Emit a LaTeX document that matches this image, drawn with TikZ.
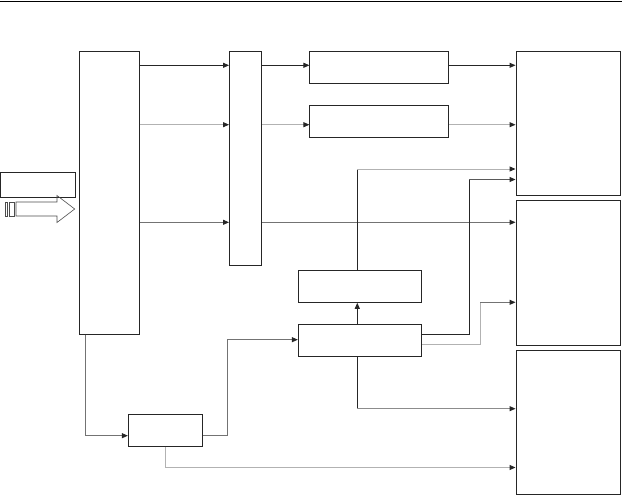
\documentclass[tikz,border=0pt]{standalone}
\usetikzlibrary{arrows.meta}
\begin{document}
\begin{tikzpicture}[x=1pt,y=-1pt,
  box/.style={draw=black!85,line width=0.9pt,inner sep=0pt,rectangle},
  con/.style={line width=0.9pt},
  tip/.style={-{Triangle[length=6pt,width=5pt,color=black!85]}},
  blk/.style={draw=black!85},
  lg/.style={draw=black!30},
  mg/.style={draw=black!55},
  dg/.style={draw=black!65}]
\useasboundingbox (0,0) rectangle (622,495);
\draw[line width=0.9pt,black] (0,1) -- (622,1);
% nodes
\node[box,minimum width=60,minimum height=283] (A) at (109.4,192.6) {};
\node[box,minimum width=32.2,minimum height=214] (B) at (245.6,158.3) {};
\node[box,minimum width=139,minimum height=32] (C1) at (379.4,67.3) {};
\node[box,minimum width=139,minimum height=32] (C2) at (379.4,121.3) {};
\node[box,minimum width=104,minimum height=144] (D1) at (568,123.3) {};
\node[box,minimum width=104,minimum height=145] (D2) at (568,272.8) {};
\node[box,minimum width=104,minimum height=144] (D3) at (568,422.3) {};
\node[box,minimum width=123.4,minimum height=32] (E) at (360,286.3) {};
\node[box,minimum width=123.4,minimum height=32.3] (F) at (360,340.2) {};
\node[box,minimum width=74.4,minimum height=32] (G) at (165.5,430.3) {};
\node[box,minimum width=75,minimum height=25] (I) at (37.5,184.5) {};
% input arrow
\draw[draw=black!70,line width=0.6pt] (16,202) -- (57,202) -- (57,195.5) -- (74.7,209) -- (57,222.5) -- (57,216) -- (16,216) -- cycle;
\draw[draw=black!70,line width=0.6pt] (5.3,202) rectangle (7.6,216);
\draw[draw=black!70,line width=0.6pt] (9.5,202) rectangle (14,216);
% A -> B
\draw[con,blk,tip] (A.east |- 0,65.3) -- (B.west |- 0,65.3);
\draw[con,lg,tip] (A.east |- 0,124.7) -- (B.west |- 0,124.7);
\draw[con,mg,tip] (A.east |- 0,222.3) -- (B.west |- 0,222.3);
% B -> C
\draw[con,blk,tip] (B.east |- 0,65.3) -- (C1.west |- 0,65.3);
\draw[con,lg,tip] (B.east |- 0,124.7) -- (C2.west |- 0,124.7);
% C -> D1
\draw[con,blk,tip] (C1.east |- 0,65.3) -- (D1.west |- 0,65.3);
\draw[con,lg,tip] (C2.east |- 0,124.7) -- (D1.west |- 0,124.7);
% B -> D2
\draw[con,mg,tip] (B.east |- 0,222.3) -- (D2.west |- 0,222.3);
% E -> D1
\coordinate (e1) at (357.3,169);
\draw[con,blk] (E.north -| e1) -- (e1);
\draw[con,lg,tip] (e1) -- (D1.west |- e1);
% F -> E
\draw[con,blk,tip] (F.north -| e1) -- (E.south -| e1);
% F -> D1
\coordinate (f1) at (469.3,179.5);
\draw[con,blk] (F.east |- 0,334) -| (f1);
\draw[con,dg,tip] (f1) -- (D1.west |- f1);
% F -> D2
\coordinate (f2) at (480,302.3);
\draw[con,lg] (F.east |- 0,344.3) -| (f2);
\draw[con,mg,tip] (f2) -- (D2.west |- f2);
% F -> D3
\coordinate (f3) at (357.3,408.7);
\draw[con,blk] (F.south -| f3) -- (f3);
\draw[con,black!45,tip] (f3) -- (D3.west |- f3);
% A -> G
\draw[con,mg,tip] (A.south -| 85.7,0) |- (G.west |- 0,435.7);
% G -> F
\draw[con,mg,tip] (G.east |- 0,435.7) -- (227,435.7) |- (F.west |- 0,339.7);
% G -> D3
\draw[con,lg,tip] (G.south -| 165.7,0) |- (D3.west |- 0,467.5);
\end{tikzpicture}
\end{document}
